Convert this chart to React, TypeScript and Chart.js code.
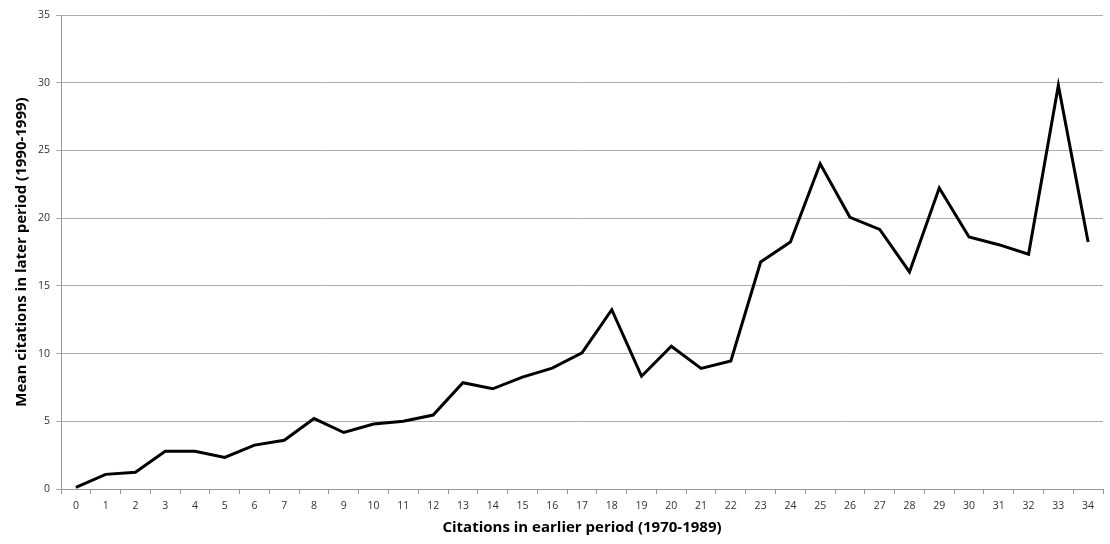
import React, { useEffect, useRef } from "react";
import { Chart, registerables } from "chart.js";

Chart.register(...registerables);

const categories: string[] = [
  "0","1","2","3","4","5","6","7","8","9","10","11","12","13","14","15","16","17",
  "18","19","20","21","22","23","24","25","26","27","28","29","30","31","32","33","34",
];

const meanCitations: number[] = [
  0.12, 1.08, 1.23, 2.79, 2.79, 2.33, 3.24, 3.6, 5.2, 4.17, 4.8, 5.0, 5.46, 7.85, 7.4,
  8.26, 8.92, 10.05, 13.24, 8.33, 10.54, 8.9, 9.46, 16.76, 18.24, 24.02, 20.06, 19.17,
  16.03, 22.22, 18.61, 18.04, 17.33, 29.8, 18.24,
];

const yTitle = "Mean citations in later period (1990-1999)";
const xTitle = "Citations in earlier period (1970-1989)";

export default function App() {
  const canvasRef = useRef<HTMLCanvasElement | null>(null);

  useEffect(() => {
    document.body.style.margin = "0";
    const canvas = canvasRef.current;
    if (!canvas) return;
    const tickFont = { family: "'Open Sans', 'DejaVu Sans', sans-serif", size: 10.5 };
    const titleFont = { family: "'Open Sans', 'DejaVu Sans', sans-serif", size: 15, weight: "bold" as const };
    const chart = new Chart(canvas, {
      type: "line",
      data: {
        labels: categories,
        datasets: [
          {
            data: meanCitations,
            borderColor: "#000000",
            borderWidth: 3,
            pointRadius: 0,
            tension: 0,
            fill: false,
          },
        ],
      },
      options: {
        animation: false,
        responsive: false,
        maintainAspectRatio: false,
        layout: { padding: { top: 15, right: 7, left: 0, bottom: 0 } },
        plugins: { legend: { display: false }, tooltip: { enabled: false } },
        scales: {
          x: {
            type: "category",
            offset: true,
            grid: {
              offset: true,
              drawOnChartArea: false,
              drawTicks: true,
              tickLength: 5,
              color: "#9a9a9a",
            },
            border: { color: "#9a9a9a", width: 1 },
            ticks: {
              color: "#303030",
              font: tickFont,
              maxRotation: 0,
              autoSkip: false,
              padding: 6,
            },
            title: {
              display: true,
              text: xTitle,
              color: "#000000",
              font: titleFont,
              padding: { top: 4, bottom: 7 },
            },
            afterFit: (scale: any) => {
              scale.height = 55;
            },
          },
          y: {
            min: 0,
            max: 35,
            ticks: {
              stepSize: 5,
              color: "#303030",
              font: tickFont,
              padding: 6,
            },
            grid: {
              color: "#adadad",
              lineWidth: 1,
              tickLength: 5,
            },
            border: { color: "#9a9a9a", width: 1 },
            title: {
              display: true,
              text: yTitle,
              color: "#000000",
              font: titleFont,
              padding: { top: 13, bottom: 4 },
            },
            afterFit: (scale: any) => {
              scale.width = 61;
            },
          },
        },
      },
    });
    return () => chart.destroy();
  }, []);

  return (
    <div style={{ position: "absolute", left: 0, top: 0, width: 1110, height: 544, background: "#ffffff" }}>
      <canvas ref={canvasRef} width={1110} height={544} style={{ width: 1110, height: 544 }} />
    </div>
  );
}
